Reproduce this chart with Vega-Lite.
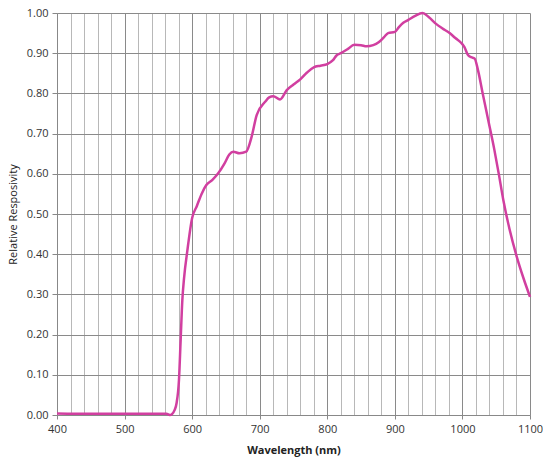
{
  "$schema": "https://vega.github.io/schema/vega-lite/v6.json",
  "autosize": {"type": "none"},
  "padding": {"left": 57, "top": 13, "right": 13, "bottom": 52},
  "width": 473,
  "height": 402,
  "background": "white",
  "config": {"view": {"stroke": null}, "font": "Open Sans"},
  "data": {"values": [
    {"wl": 400, "r": 0.004},
    {"wl": 450, "r": 0.003},
    {"wl": 500, "r": 0.003},
    {"wl": 550, "r": 0.003},
    {"wl": 562, "r": 0.003},
    {"wl": 567, "r": 0.0},
    {"wl": 570, "r": 0.002},
    {"wl": 574, "r": 0.012},
    {"wl": 577, "r": 0.03},
    {"wl": 580.5, "r": 0.087},
    {"wl": 583, "r": 0.187},
    {"wl": 585.5, "r": 0.286},
    {"wl": 588, "r": 0.34},
    {"wl": 593, "r": 0.41},
    {"wl": 600, "r": 0.49},
    {"wl": 607, "r": 0.52},
    {"wl": 614, "r": 0.55},
    {"wl": 621, "r": 0.572},
    {"wl": 630, "r": 0.585},
    {"wl": 638, "r": 0.60},
    {"wl": 648, "r": 0.626},
    {"wl": 655, "r": 0.648},
    {"wl": 661, "r": 0.655},
    {"wl": 670, "r": 0.651},
    {"wl": 680, "r": 0.655},
    {"wl": 688, "r": 0.692},
    {"wl": 695.5, "r": 0.746},
    {"wl": 708, "r": 0.779},
    {"wl": 714, "r": 0.79},
    {"wl": 720, "r": 0.793},
    {"wl": 730, "r": 0.785},
    {"wl": 740, "r": 0.808},
    {"wl": 750, "r": 0.822},
    {"wl": 760, "r": 0.835},
    {"wl": 770, "r": 0.852},
    {"wl": 780, "r": 0.865},
    {"wl": 790, "r": 0.869},
    {"wl": 800, "r": 0.873},
    {"wl": 808, "r": 0.882},
    {"wl": 814, "r": 0.895},
    {"wl": 820, "r": 0.90},
    {"wl": 830, "r": 0.91},
    {"wl": 840, "r": 0.921},
    {"wl": 850, "r": 0.92},
    {"wl": 858, "r": 0.917},
    {"wl": 868, "r": 0.92},
    {"wl": 876, "r": 0.927},
    {"wl": 884, "r": 0.94},
    {"wl": 890, "r": 0.95},
    {"wl": 900, "r": 0.953},
    {"wl": 906, "r": 0.965},
    {"wl": 912, "r": 0.975},
    {"wl": 920, "r": 0.983},
    {"wl": 930, "r": 0.993},
    {"wl": 941, "r": 1.0},
    {"wl": 950, "r": 0.99},
    {"wl": 961, "r": 0.973},
    {"wl": 970, "r": 0.962},
    {"wl": 981, "r": 0.95},
    {"wl": 990, "r": 0.937},
    {"wl": 998, "r": 0.926},
    {"wl": 1003, "r": 0.915},
    {"wl": 1008, "r": 0.896},
    {"wl": 1013, "r": 0.89},
    {"wl": 1018, "r": 0.887},
    {"wl": 1023, "r": 0.858},
    {"wl": 1030, "r": 0.80},
    {"wl": 1038, "r": 0.735},
    {"wl": 1047, "r": 0.662},
    {"wl": 1054, "r": 0.598},
    {"wl": 1060.5, "r": 0.535},
    {"wl": 1070, "r": 0.46},
    {"wl": 1080, "r": 0.396},
    {"wl": 1090, "r": 0.342},
    {"wl": 1100, "r": 0.294}
  ]},
  "mark": {"type": "line", "color": "#d13fa0", "strokeWidth": 2.5, "interpolate": "monotone"},
  "encoding": {
    "x": {
      "field": "wl", "type": "quantitative",
      "scale": {"domain": [400, 1100], "nice": false, "zero": false},
      "axis": {
        "values": [400,420,440,460,480,500,520,540,560,580,600,620,640,660,680,700,720,740,760,780,800,820,840,860,880,900,920,940,960,980,1000,1020,1040,1060,1080,1100],
        "labelExpr": "datum.value % 100 === 0 ? datum.value : ''",
        "title": "Wavelength (nm)",
        "titleFontWeight": "bold",
        "titleFontSize": 11,
        "titleColor": "#222",
        "titlePadding": 10,
        "labelFontSize": 11,
        "labelColor": "#333",
        "labelPadding": 4,
        "labelFlush": false,
        "labelOverlap": false,
        "domainColor": "#888",
        "tickSize": 4,
        "tickColor": "#888",
        "tickOpacity": {"condition": {"test": "datum.value % 100 === 0", "value": 1}, "value": 0},
        "grid": true,
        "gridColor": {"condition": {"test": "datum.value % 100 === 0", "value": "#8a8a8a"}, "value": "#b8b8b8"},
        "gridWidth": 1
      }
    },
    "y": {
      "field": "r", "type": "quantitative",
      "scale": {"domain": [0, 1], "nice": false},
      "axis": {
        "values": [0,0.1,0.2,0.3,0.4,0.5,0.6,0.7,0.8,0.9,1.0],
        "format": ".2f",
        "title": "Relative Resposivity",
        "titleFontWeight": "normal",
        "titleFontSize": 11,
        "titleColor": "#222",
        "titleX": -44,
        "titleY": 201,
        "titleAngle": 270,
        "titleAlign": "center",
        "titleBaseline": "middle",
        "labelFontSize": 11,
        "labelColor": "#333",
        "labelPadding": 4,
        "labelFlush": false,
        "domainColor": "#888",
        "tickSize": 5,
        "tickColor": "#888",
        "grid": true,
        "gridColor": "#8a8a8a",
        "gridWidth": 1
      }
    }
  }
}
